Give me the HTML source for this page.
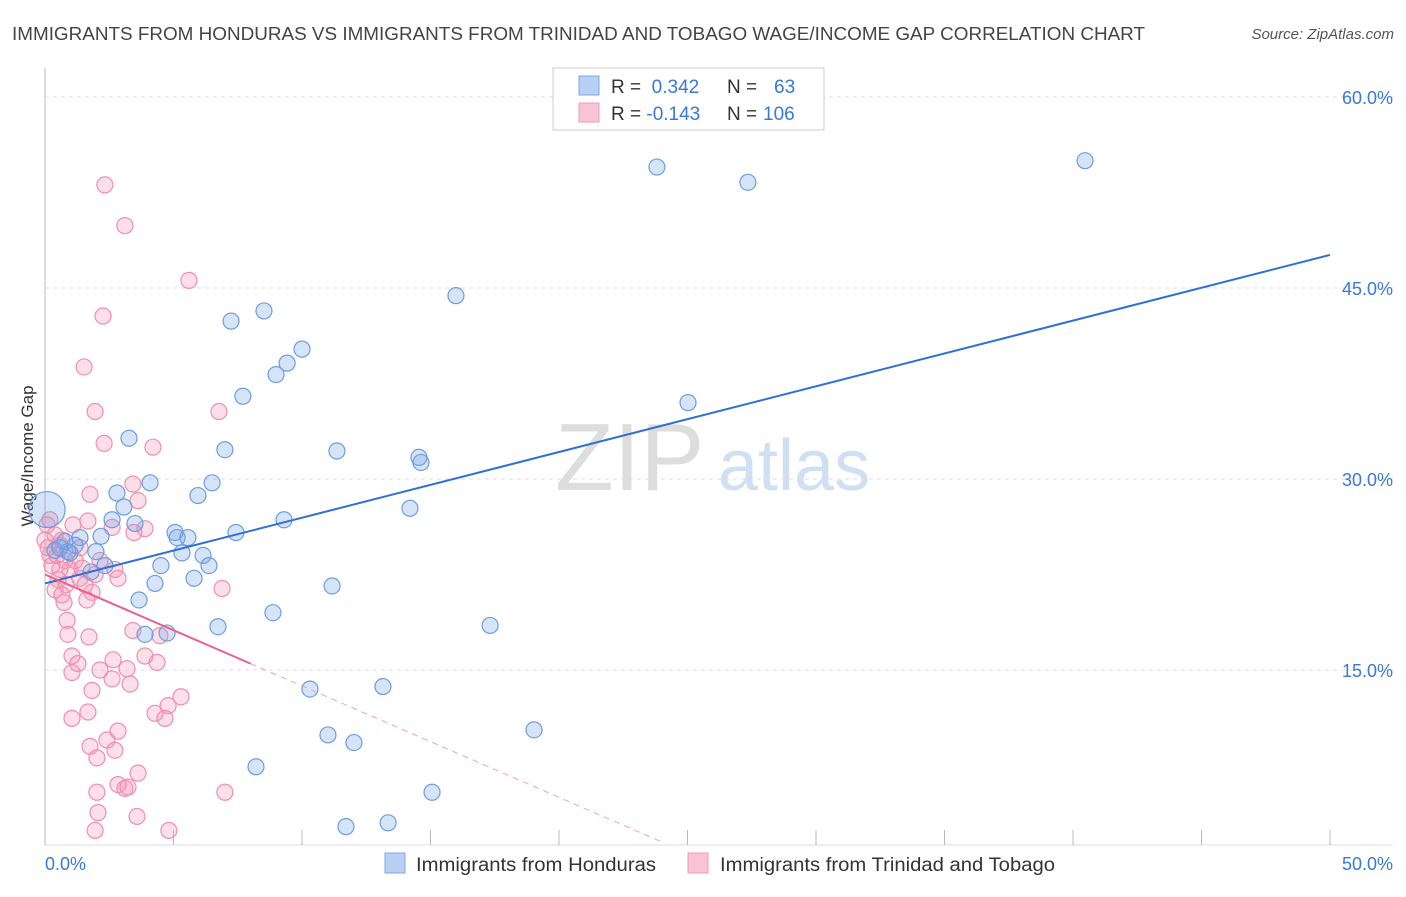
<!DOCTYPE html>
<html><head><meta charset="utf-8"><style>
body{margin:0;background:#fff;font-family:"Liberation Sans",sans-serif;}
svg text{font-family:"Liberation Sans",sans-serif;}
</style></head><body>
<svg id="chart" width="1406" height="892" xmlns="http://www.w3.org/2000/svg">
<text x="12" y="40" font-size="18" fill="#444" textLength="1133" lengthAdjust="spacingAndGlyphs">IMMIGRANTS FROM HONDURAS VS IMMIGRANTS FROM TRINIDAD AND TOBAGO WAGE/INCOME GAP CORRELATION CHART</text>
<text x="1394" y="39" font-size="15" fill="#555" font-style="italic" text-anchor="end">Source: ZipAtlas.com</text>
<text x="555" y="490" font-size="96" fill="#ddd" font-family="Liberation Serif">ZIP</text>
<text x="718" y="490" font-size="72" fill="#cfe0f4">atlas</text>
<text transform="translate(33,456) rotate(-90)" font-size="17" fill="#333" text-anchor="middle">Wage/Income Gap</text>
<g id="grid"></g><g id="pts"></g><g id="lines"></g>
<g>
<rect x="553" y="68" width="271" height="62" fill="#fff" stroke="#ccc"/>
<rect x="579" y="76" width="20" height="19" fill="#b8d0f4" stroke="#7fa7e0"/>
<rect x="579" y="103" width="20" height="19" fill="#f9c4d4" stroke="#f09ab5"/>
<text x="611" y="93" font-size="19" fill="#333">R = <tspan fill="#3a78d8">&#160;0.342</tspan><tspan x="727">N = </tspan><tspan x="774" fill="#3a78d8">63</tspan></text>
<text x="611" y="120" font-size="19" fill="#333">R = <tspan fill="#3a78d8">-0.143</tspan><tspan x="727">N = </tspan><tspan x="763" fill="#3a78d8">106</tspan></text>
</g>
<g>
<rect x="385" y="853" width="20" height="20" fill="#b8d0f4" stroke="#7fa7e0"/>
<text x="416" y="871" font-size="19" fill="#333" textLength="240" lengthAdjust="spacingAndGlyphs">Immigrants from Honduras</text>
<rect x="688" y="853" width="20" height="20" fill="#f9c4d4" stroke="#f09ab5"/>
<text x="720" y="871" font-size="19" fill="#333" textLength="335" lengthAdjust="spacingAndGlyphs">Immigrants from Trinidad and Tobago</text>
</g>
</svg>
<script>
const xTicks=[0,5,10,15,20,25,30,35,40,45,50];
const yTicks=[15,30,45,60];
const blueX=[23.81,27.35,40.47,15.99,8.52,7.24,10.0,9.42,8.99,7.70,25.02,3.27,7.00,11.36,14.55,14.63,6.50,4.09,5.95,2.80,3.07,14.20,9.30,2.61,3.50,5.06,5.14,5.56,7.43,2.18,1.36,1.98,0.89,5.33,6.15,6.38,4.51,2.33,1.79,4.28,5.80,11.17,3.66,8.87,6.73,3.89,4.75,17.32,10.31,13.15,19.03,11.01,12.02,8.21,15.06,11.71,13.35,0.39,0.58,0.97,0.78,1.17];
const blueY=[54.5,53.3,55.0,44.4,43.2,42.4,40.2,39.1,38.2,36.5,36.0,33.2,32.3,32.2,31.7,31.3,29.7,29.7,28.7,28.9,27.8,27.7,26.8,26.8,26.5,25.8,25.4,25.4,25.8,25.5,25.4,24.3,24.3,24.2,24.0,23.2,23.2,23.2,22.7,21.8,22.2,21.6,20.5,19.5,18.4,17.8,17.9,18.5,13.5,13.7,10.3,9.9,9.3,7.4,5.4,2.7,3.0,24.4,24.6,24.2,25.1,24.8];
const pinkX=[2.33,3.11,5.60,2.26,1.52,1.95,6.77,2.30,4.20,1.75,3.42,3.62,2.61,3.89,3.46,1.67,0.19,0.08,0.39,0.58,1.09,1.36,0.19,0.78,0.97,0.51,0.39,0.66,1.36,1.56,1.83,2.14,2.72,2.84,1.63,0.74,0.86,0.89,1.71,6.89,3.42,4.47,1.05,1.28,1.05,2.14,2.65,3.89,4.36,3.19,2.61,3.31,1.83,5.29,4.79,1.67,4.28,4.67,1.05,2.84,1.75,2.41,2.72,2.02,3.62,2.84,3.11,3.23,2.02,7.00,2.06,3.58,4.82,1.95,0,0.12,0.27,0.47,0.66,1.17,1.44,1.95,0.58,0.82];
const pinkY=[53.1,49.9,45.6,42.8,38.8,35.3,35.3,32.8,32.5,28.8,29.6,28.3,26.2,26.1,25.8,26.7,26.8,26.4,25.6,24.8,26.4,24.6,24.0,23.6,22.9,22.1,21.3,20.9,22.2,21.7,21.1,23.6,22.9,22.2,20.5,20.3,18.9,17.8,17.6,21.4,18.1,17.7,16.1,15.5,14.8,15.0,15.8,16.1,15.6,15.1,14.3,13.9,13.4,12.9,12.2,11.7,11.6,11.2,11.2,10.2,9.0,9.5,8.7,8.1,6.9,6.0,5.7,5.8,5.4,5.4,3.8,3.5,2.4,2.4,25.2,24.6,23.2,24.0,25.2,23.6,23.0,22.5,22.9,21.7];
const blueTrend=[21.8,47.6];
const pinkTrend=[22.5,-0.875];
const big=[0.08,27.6];
const NS='http://www.w3.org/2000/svg';
const sx=v=>45+v*25.7, sy=v=>861-v*12.733;
function mk(t,a,p){const e=document.createElementNS(NS,t);for(const k in a)e.setAttribute(k,a[k]);p.appendChild(e);return e;}
const grid=document.getElementById('grid');
yTicks.forEach(v=>{
 const l=mk('line',{x1:45,x2:1393,y1:sy(v),y2:sy(v),stroke:'#ddd','stroke-dasharray':'4,4'},grid);
 
 
 const t=mk('text',{x:1393,y:sy(v)+7,'font-size':18,fill:'#3a78d8','text-anchor':'end'},grid);t.textContent=v.toFixed(1)+'%';
 
 
});
const ax=mk('line',{x1:45,x2:45,y1:68,y2:845,stroke:'#bbb'},grid);


const bx=mk('line',{x1:45,x2:1393,y1:845,y2:845,stroke:'#ddd'},grid);


xTicks.forEach(v=>{
 const l=mk('line',{x1:sx(v),x2:sx(v),y1:830,y2:845,stroke:'#bbb'},grid);
 
 
});
[[0,'start'],[50,'end']].forEach(([v,a])=>{
 const t=mk('text',{x:v==0?45:1393,y:870,'font-size':18,fill:'#3a78d8','text-anchor':a},grid);t.textContent=v.toFixed(1)+'%';
 
 
});
const pts=document.getElementById('pts');
pinkX.forEach((x,i)=>{
 const c=mk('circle',{cx:sx(x),cy:sy(pinkY[i]),r:8,fill:'rgba(244,150,180,0.3)',stroke:'#ee8fae','stroke-width':1.2},pts);
 
 
});
blueX.forEach((x,i)=>{
 const c=mk('circle',{cx:sx(x),cy:sy(blueY[i]),r:8,fill:'rgba(120,165,235,0.3)',stroke:'#6f9ce0','stroke-width':1.2},pts);
 
 
});
const bg=mk('circle',{cx:sx(big[0]),cy:sy(big[1]),r:18,fill:'rgba(120,165,235,0.3)',stroke:'#6f9ce0','stroke-width':1.2},pts);


const lines=document.getElementById('lines');
const bl=mk('line',{x1:sx(0),y1:sy(blueTrend[0]),x2:sx(50),y2:sy(blueTrend[1]),stroke:'#2f6fd6','stroke-width':2},lines);


const pf=x=>pinkTrend[0]+pinkTrend[1]*x;
const pl=mk('line',{x1:sx(0),y1:sy(pf(0)),x2:sx(8),y2:sy(pf(8)),stroke:'#e8628c','stroke-width':2},lines);


const pd=mk('line',{x1:sx(8),y1:sy(pf(8)),x2:sx(24.1),y2:sy(pf(24.1)),stroke:'#f0a0b8','stroke-width':1,'stroke-dasharray':'6,5'},lines);


</script>
</body></html>
